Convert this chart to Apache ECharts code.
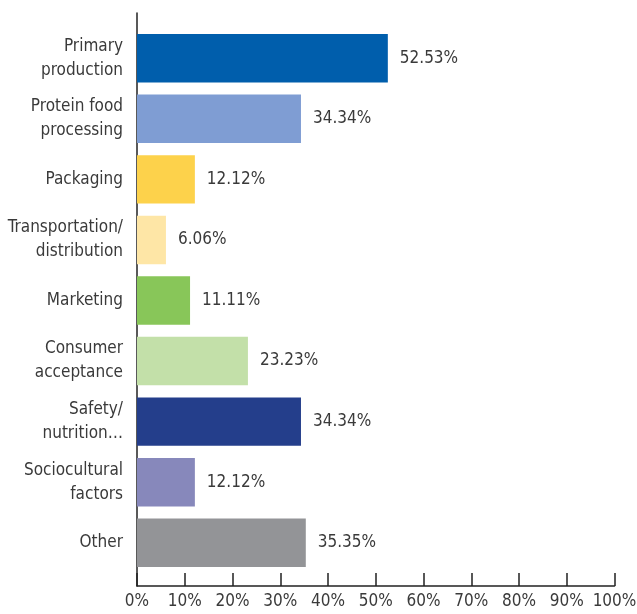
<!DOCTYPE html>
<html>
<head>
<meta charset="utf-8">
<script src="https://cdn.jsdelivr.net/npm/echarts@6/dist/echarts.min.js"></script>
<style>
  html, body { margin: 0; padding: 0; background: #fff; }
  #main { width: 637px; height: 614px; }
</style>
</head>
<body>
<div id="main"></div>
<script>
const categories = [
  'Primary\nproduction',
  'Protein food\nprocessing',
  'Packaging',
  'Transportation/\ndistribution',
  'Marketing',
  'Consumer\nacceptance',
  'Safety/\nnutrition…',
  'Sociocultural\nfactors',
  'Other'
]
const shares = [52.53, 34.34, 12.12, 6.06, 11.11, 23.23, 34.34, 12.12, 35.35]
const barColors = ['#005eac', '#7f9dd3', '#fdd24b', '#fee6a6', '#88c659', '#c3e0a9', '#243e8b', '#8788bb', '#939497']
const tickLabels = ['0%', '10%', '20%', '30%', '40%', '50%', '60%', '70%', '80%', '90%', '100%']

const font = '"DejaVu Sans Condensed", "Liberation Sans Narrow", sans-serif'
const fontSize = 17
const textColor = '#3a3a3a'

const chart = echarts.init(document.getElementById('main'))

chart.setOption({
  animation: false,
  grid: [
    // bars
    { left: 137, right: 22.5, top: 28, bottom: 41, outerBoundsMode: 'none', containLabel: false },
    // axis lines, a bit longer than the bar area
    { left: 137, right: 22.5, top: 13, bottom: 28, outerBoundsMode: 'none', containLabel: false }
  ],
  xAxis: [
    { gridIndex: 0, type: 'value', min: 0, max: 100, show: false },
    {
      gridIndex: 1,
      type: 'value',
      min: 0,
      max: 100,
      interval: 10,
      axisLine: { show: true, lineStyle: { color: '#222', width: 1.5 } },
      axisTick: { show: true, inside: true, length: 13, lineStyle: { color: '#222', width: 1.5 } },
      splitLine: { show: false },
      axisLabel: {
        margin: 7,
        showMinLabel: true,
        showMaxLabel: true,
        hideOverlap: false,
        color: textColor,
        fontFamily: font,
        fontSize: fontSize,
        formatter: (v) => tickLabels[Math.round(v / 10)]
      }
    }
  ],
  yAxis: [
    {
      gridIndex: 0,
      type: 'category',
      inverse: true,
      data: categories,
      axisLine: { show: false },
      axisTick: { show: false },
      axisLabel: {
        margin: 14,
        color: textColor,
        fontFamily: font,
        fontSize: fontSize,
        lineHeight: 24,
        align: 'right'
      }
    },
    {
      gridIndex: 1,
      type: 'value',
      min: 0,
      max: 1,
      axisLine: { show: true, lineStyle: { color: '#222', width: 1.5 } },
      axisTick: { show: false },
      axisLabel: { show: false },
      splitLine: { show: false }
    }
  ],
  series: [
    {
      type: 'bar',
      xAxisIndex: 0,
      yAxisIndex: 0,
      barCategoryGap: '20%',
      data: shares.map((v, i) => ({ value: v, itemStyle: { color: barColors[i] } })),
      label: {
        show: true,
        position: 'right',
        distance: 12,
        color: textColor,
        fontFamily: font,
        fontSize: fontSize,
        formatter: (p) => p.value.toFixed(2) + '%'
      }
    }
  ]
})
</script>
</body>
</html>
